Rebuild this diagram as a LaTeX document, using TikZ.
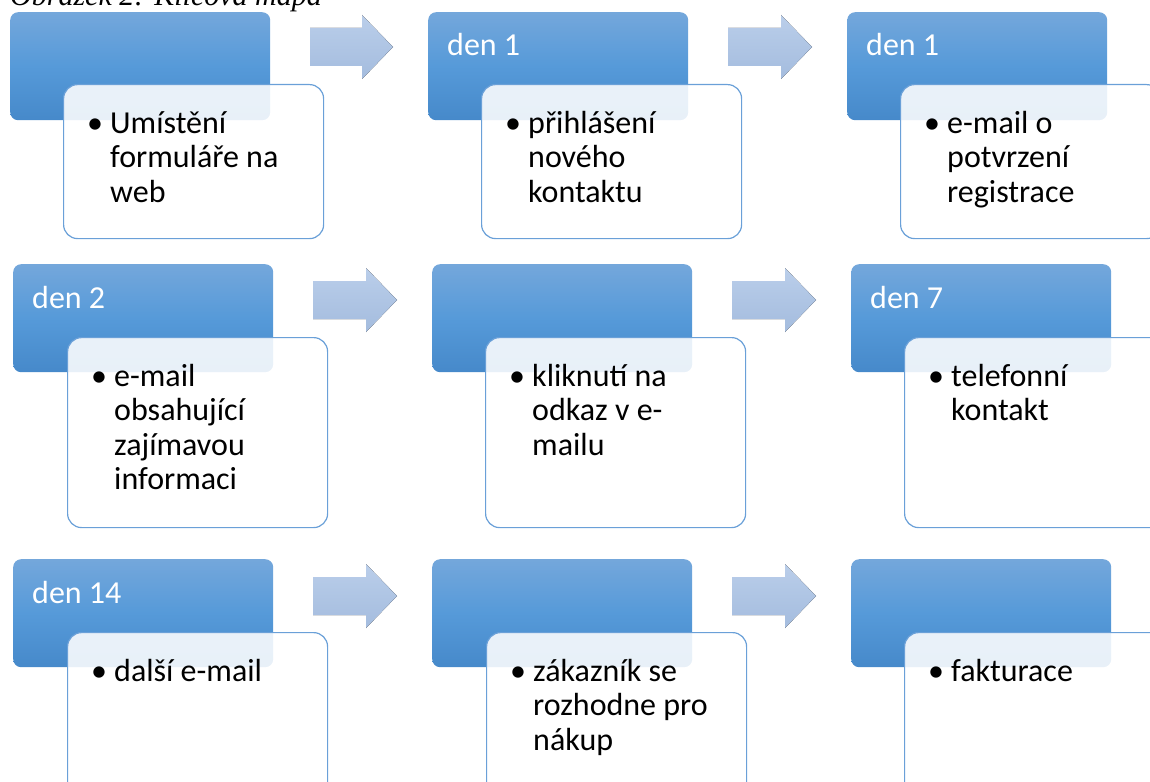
\documentclass[tikz,border=0pt]{standalone}
\usepackage{fontspec}
\setmainfont{Carlito}
\newfontfamily\capfont{Liberation Serif}
\usetikzlibrary{calc}

\definecolor{hdtop}{RGB}{116,167,219}
\definecolor{hdmid}{RGB}{86,154,217}
\definecolor{hdbot}{RGB}{70,137,202}
\definecolor{cardline}{RGB}{106,160,216}
\definecolor{arrtop}{RGB}{186,206,234}
\definecolor{arrbot}{RGB}{164,188,222}

\tikzset{
  header/.style={rounded corners=8pt, top color=hdtop, bottom color=hdbot,
    middle color=hdmid, draw=none, minimum width=260pt, minimum height=108pt,
    anchor=north west, inner sep=0pt},
  card/.style={rounded corners=14pt, fill=white, fill opacity=0.88,
    draw=cardline, line width=1.2pt, minimum width=260pt,
    anchor=north west, inner sep=0pt},
  headtext/.style={anchor=base west, text=white, inner sep=0pt,
    font=\fontsize{32}{34.5}\selectfont},
  cardtext/.style={anchor=base west, inner sep=0pt,
    font=\fontsize{32}{34.5}\selectfont},
  blockarrow/.style={top color=arrtop, bottom color=arrbot, draw=none},
}

% one step: blue header, white card on top, header label, bulleted text
% #1 name, #2/#3 header corner, #4/#5 card corner, #6 card height,
% #7 header label, #8 card lines
\newcommand\stage[8]{%
  \node[header] (#1h) at (#2,#3) {};
  \node[card, minimum height=#6pt] (#1c) at (#4,#5) {};
  \node[headtext] (#1l) at ($(#1h.north west)+(19,44)$) {#7};
  \node[cardtext] (#1b) at ($(#1c.north west)+(24,49)$) {•};
  \node[cardtext] (#1t) at ($(#1c.north west)+(47,49)$) {\vtop{#8}};
}

% block arrow between two headers: start x, tip x, centre y
\newcommand\flowarrow[3]{%
  \fill[blockarrow] (#1,#3-19) -- (#2-31,#3-19) -- (#2-31,#3-32) -- (#2,#3)
    -- (#2-31,#3+32) -- (#2-31,#3+19) -- (#1,#3+19) -- cycle;
}

\begin{document}
\begin{tikzpicture}[x=1pt,y=-1pt]
\useasboundingbox (0,0) rectangle (1150,781);
\clip (0,0) rectangle (1150,781);

\node[anchor=base west, inner sep=0pt, font=\capfont\itshape\fontsize{30}{34}\selectfont]
  (caption) at (10,6) {Obrázek 2: Klíčová mapa};

% first row
\stage{s11}{10}{12}{63}{84}{154}{}{\hbox{Umístění}\hbox{formuláře na}\hbox{web}}
\stage{s12}{428}{12}{481}{84}{154}{den 1}{\hbox{přihlášení}\hbox{nového}\hbox{kontaktu}}
\stage{s13}{847}{12}{900}{84}{154}{den 1}{\hbox{e-mail o}\hbox{potvrzení}\hbox{registrace}}
\flowarrow{310}{393}{47}
\flowarrow{728}{812}{47}

% second row
\stage{s21}{13}{264}{67}{337}{190}{den 2}{\hbox{e-mail}\hbox{obsahující}\hbox{zajímavou}\hbox{informaci}}
\stage{s22}{432}{264}{485}{337}{190}{}{\hbox{kliknutí na}\hbox{odkaz v e-}\hbox{mailu}}
\stage{s23}{851}{264}{904}{337}{190}{den 7}{\hbox{telefonní}\hbox{kontakt}}
\flowarrow{313}{397}{300}
\flowarrow{732}{816}{300}

% third row
\stage{s31}{13}{559}{67}{632}{200}{den 14}{\hbox{další e-mail}}
\stage{s32}{432}{559}{486}{632}{200}{}{\hbox{zákazník se}\hbox{rozhodne pro}\hbox{nákup}}
\stage{s33}{851}{559}{904}{632}{200}{}{\hbox{fakturace}}
\flowarrow{313}{397}{596}
\flowarrow{732}{816}{596}
\end{tikzpicture}
\end{document}
